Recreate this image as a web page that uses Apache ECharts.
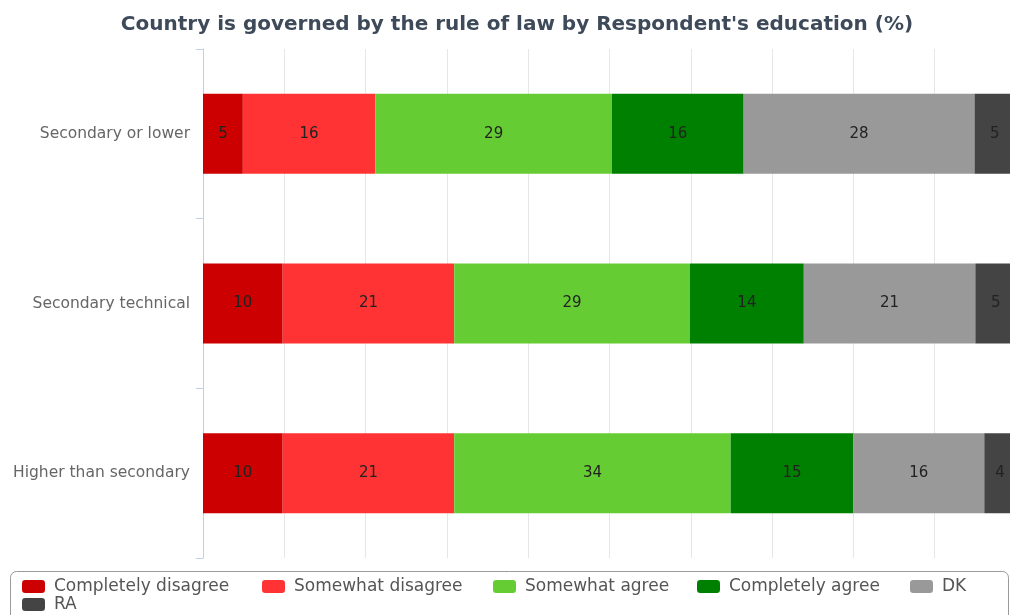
<!DOCTYPE html>
<html>
<head>
<meta charset="utf-8">
<script src="https://cdn.jsdelivr.net/npm/echarts@6/dist/echarts.min.js"></script>
<style>
html,body{margin:0;padding:0;background:#fff;overflow:hidden;width:1010px;height:615px;}
#chart{width:1016px;height:615px;}
</style>
</head>
<body>
<div id="chart"></div>
<script>
const categories = ['Secondary or lower', 'Secondary technical', 'Higher than secondary'];
const seriesNames = ['Completely disagree', 'Somewhat disagree', 'Somewhat agree', 'Completely agree', 'DK', 'RA'];
const completelyDisagree = [4.9, 9.8, 9.8];
const somewhatDisagree = [16.3, 21.1, 21.1];
const somewhatAgree = [29.1, 29.0, 34.0];
const completelyAgree = [16.2, 14.0, 15.1];
const dk = [28.4, 21.1, 16.1];
const ra = [5.0, 5.0, 3.9];
const xTicks = [0, 100, 10];

const colors = ['#cc0000', '#ff3333', '#66cc33', '#008000', '#999999', '#444444'];
const values = [completelyDisagree, somewhatDisagree, somewhatAgree, completelyAgree, dk, ra];

const chart = echarts.init(document.getElementById('chart'), null, {renderer: 'canvas'});
const font = '"DejaVu Sans", sans-serif';

const series = seriesNames.map((name, i) => ({
  name: name,
  type: 'bar',
  stack: 'total',
  barWidth: 80,
  data: values[i],
  itemStyle: {color: colors[i]},
  emphasis: {disabled: true},
  label: {
    show: true,
    position: 'inside',
    color: '#222',
    fontFamily: font,
    fontSize: 15,
    formatter: p => Math.round(p.value)
  }
}));

const legendPos = [
  {left: 22, top: 578},
  {left: 262, top: 578},
  {left: 493, top: 578},
  {left: 697, top: 578},
  {left: 910, top: 578},
  {left: 22, top: 596}
];
const legends = seriesNames.map((name, i) => ({
  data: [name],
  left: legendPos[i].left,
  top: legendPos[i].top,
  padding: 0,
  icon: 'roundRect',
  itemWidth: 23,
  itemHeight: 13,
  selectedMode: false,
  textStyle: {color: '#555', fontFamily: font, fontSize: 17, padding: [0, 0, 0, 4]}
}));

chart.setOption({
  animation: false,
  backgroundColor: '#fff',
  title: {
    text: "Country is governed by the rule of law by Respondent's education (%)",
    left: 512,
    textAlign: 'center',
    top: 10,
    textStyle: {color: '#3e4a5a', fontFamily: font, fontSize: 20, fontWeight: 600}
  },
  legend: legends,
  graphic: [{
    type: 'rect',
    shape: {x: 10.5, y: 571.5, width: 998, height: 60, r: 6},
    style: {fill: 'none', stroke: '#9a9a9a', lineWidth: 1},
    silent: true
  }],
  grid: {left: 203, right: 0, top: 49, bottom: 57, containLabel: false},
  xAxis: {
    type: 'value',
    min: xTicks[0],
    max: xTicks[1],
    interval: xTicks[2],
    axisLine: {show: false},
    axisTick: {show: false},
    axisLabel: {show: false},
    splitLine: {show: true, lineStyle: {color: '#e6e6e6', width: 1}}
  },
  yAxis: {
    type: 'category',
    data: categories,
    inverse: true,
    axisLine: {show: true, lineStyle: {color: '#c0d0e0', width: 1}},
    axisTick: {show: true, length: 7, lineStyle: {color: '#c0d0e0'}},
    axisLabel: {color: '#666', fontFamily: font, fontSize: 15.5, margin: 13}
  },
  series: series
});
</script>
</body>
</html>
